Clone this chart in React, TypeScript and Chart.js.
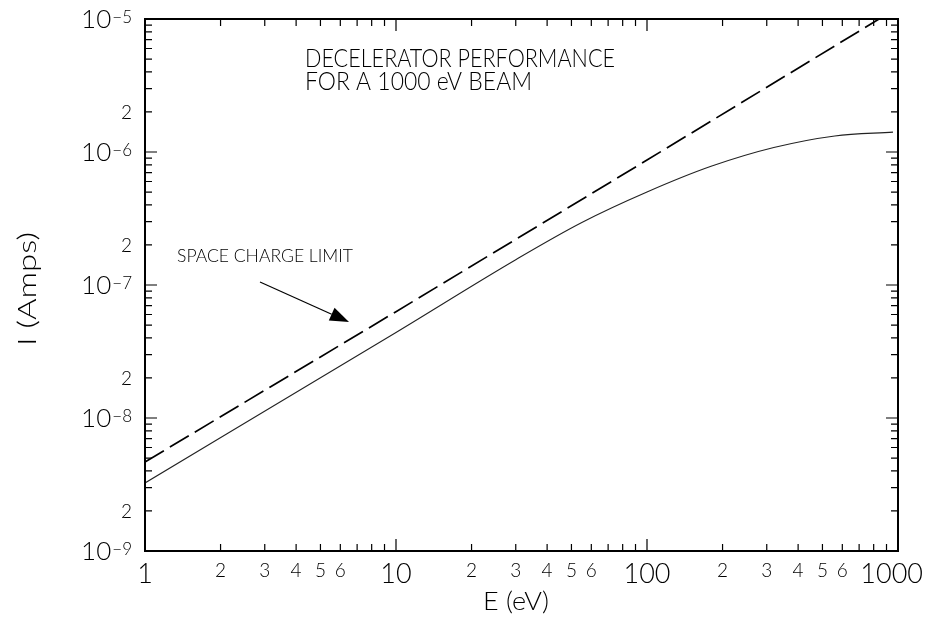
import React, { useEffect, useRef } from "react";
import { Chart, registerables } from "chart.js";
Chart.register(...registerables);

// Space charge limit (dashed)
const energyLimit = [1, 10, 100, 1000];
const currentLimit = [4.67e-9, 6.3e-8, 8.7e-7, 1.22e-5];
// Decelerator performance (solid)
const energyPerf = [1, 10, 30, 55, 100, 180, 320, 560, 955];
const currentPerf = [3.25e-9, 4.4e-8, 1.55e-7, 2.95e-7, 5.0e-7, 7.8e-7, 1.08e-6, 1.32e-6, 1.41e-6];

const xDecades = [1, 10, 100, 1000];
const xMinorLabels = [2, 3, 4, 5, 6];
const yExponents = [-9, -8, -7, -6, -5];
const yMinorLabels = [2];

const titleLines = ["DECELERATOR PERFORMANCE", "FOR A 1000 eV BEAM"];
const annotationText = "SPACE CHARGE LIMIT";
const xTitle = "E (eV)";
const yTitle = "I (Amps)";

const FONT = "'Lato', 'Roboto', 'DejaVu Sans', sans-serif";
const W = 300;

function squeezedText(ctx: CanvasRenderingContext2D, text: string, x: number, y: number, width: number) {
  const w = ctx.measureText(text).width;
  const s = Math.min(1.3, width / w);
  ctx.save();
  ctx.translate(x, y);
  ctx.scale(s, 1);
  ctx.fillText(text, 0, 0);
  ctx.restore();
}

const decorPlugin = {
  id: "decor",
  afterDatasetsDraw(chart: any) {
    const ctx = chart.ctx as CanvasRenderingContext2D;
    const { left, right, top, bottom } = chart.chartArea;
    const xs = chart.scales.x;
    const ys = chart.scales.y;
    ctx.save();
    ctx.strokeStyle = "#000";
    ctx.fillStyle = "#000";

    // frame
    ctx.lineWidth = 2;
    ctx.strokeRect(left, top, right - left, bottom - top);

    // x ticks (bottom and top, inward)
    ctx.lineWidth = 1.2;
    for (let d = 0; d < 3; d++) {
      for (let m = 1; m <= 9; m++) {
        const v = m * Math.pow(10, d);
        const px = xs.getPixelForValue(v);
        const len = m === 1 ? 12 : 7;
        ctx.beginPath();
        ctx.moveTo(px, bottom);
        ctx.lineTo(px, bottom - len);
        ctx.moveTo(px, top);
        ctx.lineTo(px, top + len);
        ctx.stroke();
      }
    }
    // y ticks (left and right, inward)
    for (let e = -9; e < -5; e++) {
      for (let m = 1; m <= 9; m++) {
        const v = m * Math.pow(10, e);
        const py = ys.getPixelForValue(v);
        const len = m === 1 ? 12 : 7;
        ctx.beginPath();
        ctx.moveTo(left, py);
        ctx.lineTo(left + len, py);
        ctx.moveTo(right, py);
        ctx.lineTo(right - len, py);
        ctx.stroke();
      }
    }

    // x labels
    ctx.textBaseline = "alphabetic";
    xDecades.forEach((v) => {
      const px = xs.getPixelForValue(v);
      ctx.font = `${W} 27px ${FONT}`;
      if (v === 1000) {
        ctx.textAlign = "right";
        ctx.fillText(String(v), 923, bottom + 32);
      } else {
        ctx.textAlign = "center";
        ctx.fillText(String(v), px, bottom + 32);
      }
      ctx.textAlign = "center";
      if (v < 1000) {
        xMinorLabels.forEach((m) => {
          const mx = xs.getPixelForValue(m * v);
          ctx.font = `${W} 19px ${FONT}`;
          ctx.fillText(String(m), mx, bottom + 26);
        });
      }
    });

    // y labels
    yExponents.forEach((e) => {
      const py = ys.getPixelForValue(Math.pow(10, e));
      const xr = left - 13;
      ctx.textAlign = "right";
      ctx.font = `${W} 17px ${FONT}`;
      const sup = "\u2212" + String(-e);
      const supW = ctx.measureText(sup).width;
      ctx.fillText(sup, xr, py + 4);
      ctx.font = `${W} 26px ${FONT}`;
      ctx.fillText("10", xr - supW - 1, py + 9);
      if (e < -5) {
        yMinorLabels.forEach((m) => {
          const my = ys.getPixelForValue(m * Math.pow(10, e));
          ctx.font = `${W} 19px ${FONT}`;
          ctx.fillText(String(m), xr, my + 7);
        });
      }
    });

    // axis titles
    ctx.textAlign = "left";
    ctx.font = `${W} 26px ${FONT}`;
    squeezedText(ctx, xTitle, 483, bottom + 59, 66);
    ctx.save();
    ctx.translate(36, 346);
    ctx.rotate(-Math.PI / 2);
    squeezedText(ctx, yTitle, 0, 0, 114);
    ctx.restore();

    // title
    ctx.font = `${W} 26px ${FONT}`;
    squeezedText(ctx, titleLines[0], 305, 67, 310);
    squeezedText(ctx, titleLines[1], 305, 90, 227);

    // annotation
    ctx.font = `${W} 17px ${FONT}`;
    squeezedText(ctx, annotationText, 177, 262, 176);

    // arrow pointing at the dashed line
    const ax0 = 260, ay0 = 282, ax1 = 349, ay1 = 322;
    const ang = Math.atan2(ay1 - ay0, ax1 - ax0);
    const hl = 19, hw = 7;
    const bx = ax1 - hl * Math.cos(ang);
    const by = ay1 - hl * Math.sin(ang);
    ctx.lineWidth = 1.2;
    ctx.beginPath();
    ctx.moveTo(ax0, ay0);
    ctx.lineTo(bx, by);
    ctx.stroke();
    ctx.beginPath();
    ctx.moveTo(ax1, ay1);
    ctx.lineTo(bx + hw * Math.sin(ang), by - hw * Math.cos(ang));
    ctx.lineTo(bx - hw * Math.sin(ang), by + hw * Math.cos(ang));
    ctx.closePath();
    ctx.fill();

    ctx.restore();
  },
};

export default function App() {
  const ref = useRef<HTMLCanvasElement | null>(null);
  useEffect(() => {
    if (!ref.current) return;
    const chart = new Chart(ref.current, {
      type: "line",
      data: {
        datasets: [
          {
            label: "Space charge limit",
            data: energyLimit.map((x, i) => ({ x, y: currentLimit[i] })),
            borderColor: "#000",
            borderWidth: 1.7,
            borderDash: [22, 7],
            pointRadius: 0,
            tension: 0,
          },
          {
            label: "Performance",
            data: energyPerf.map((x, i) => ({ x, y: currentPerf[i] })),
            borderColor: "#222",
            borderWidth: 1.1,
            pointRadius: 0,
            cubicInterpolationMode: "monotone",
          },
        ],
      },
      options: {
        animation: false,
        responsive: false,
        layout: { padding: { left: 145, right: 29, top: 19, bottom: 84 } },
        scales: {
          x: { type: "logarithmic", min: 1, max: 1000, display: false },
          y: { type: "logarithmic", min: 1e-9, max: 1e-5, display: false },
        },
        plugins: { legend: { display: false }, tooltip: { enabled: false } },
      },
      plugins: [decorPlugin],
    });
    return () => chart.destroy();
  }, []);
  return (
    <div style={{ position: "absolute", left: 0, top: 0, width: 927, height: 635, background: "#fff" }}>
      <canvas ref={ref} width={927} height={635} style={{ display: "block" }} />
    </div>
  );
}
